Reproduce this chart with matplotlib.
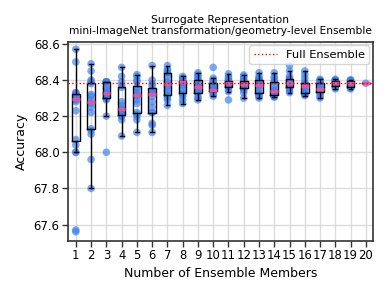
import matplotlib
matplotlib.use("Agg")
import matplotlib.pyplot as plt

sizes = list(range(1, 21))
full_ensemble = 68.382

acc_k1 = [67.56, 67.57, 68.00, 68.00, 68.04, 68.07, 68.23, 68.28, 68.29, 68.29,
          68.30, 68.30, 68.31, 68.31, 68.32, 68.32, 68.33, 68.33, 68.50, 68.57]
acc_k2 = [67.80, 67.96, 68.10, 68.12, 68.13, 68.22, 68.25, 68.27, 68.29, 68.31,
          68.32, 68.38, 68.39, 68.40, 68.45, 68.49]
acc_k3 = [68.00, 68.20, 68.29, 68.30, 68.30, 68.31, 68.32, 68.33, 68.33, 68.35,
          68.36, 68.39, 68.39, 68.39, 68.39, 68.39]
acc_k4 = [68.09, 68.18, 68.20, 68.20, 68.21, 68.22, 68.23, 68.24, 68.24, 68.26,
          68.28, 68.36, 68.37, 68.39, 68.42, 68.47]
acc_k5 = [68.11, 68.18, 68.20, 68.21, 68.22, 68.27, 68.29, 68.31, 68.32, 68.33,
          68.35, 68.36, 68.39, 68.40, 68.42, 68.43]
acc_k6 = [68.11, 68.15, 68.16, 68.22, 68.22, 68.25, 68.28, 68.31, 68.33, 68.33,
          68.34, 68.35, 68.37, 68.38, 68.40, 68.48]
acc_k7 = [68.26, 68.29, 68.30, 68.31, 68.32, 68.34, 68.36, 68.37, 68.385, 68.39,
          68.42, 68.44, 68.44, 68.45, 68.46, 68.48]
acc_k8 = [68.27, 68.29, 68.31, 68.32, 68.33, 68.35, 68.37, 68.385, 68.39, 68.39,
          68.39, 68.395, 68.40, 68.41, 68.41, 68.42]
acc_k9 = [68.29, 68.30, 68.31, 68.33, 68.33, 68.34, 68.35, 68.36, 68.365, 68.37,
          68.38, 68.40, 68.41, 68.42, 68.43, 68.44]
acc_k10 = [68.31, 68.32, 68.33, 68.335, 68.34, 68.34, 68.345, 68.345, 68.35, 68.36,
           68.37, 68.385, 68.39, 68.40, 68.41, 68.47]
acc_k11 = [68.29, 68.336, 68.345, 68.36, 68.365, 68.37, 68.38, 68.385, 68.387, 68.39,
           68.393, 68.396, 68.40, 68.41, 68.42, 68.434]
acc_k12 = [68.30, 68.33, 68.345, 68.35, 68.36, 68.365, 68.37, 68.375, 68.38, 68.385,
           68.39, 68.395, 68.40, 68.41, 68.42, 68.428]
acc_k13 = [68.30, 68.31, 68.315, 68.32, 68.33, 68.35, 68.365, 68.37, 68.38, 68.385,
           68.39, 68.40, 68.405, 68.41, 68.42, 68.44]
acc_k14 = [68.305, 68.31, 68.31, 68.315, 68.32, 68.325, 68.33, 68.335, 68.34, 68.35,
           68.37, 68.39, 68.395, 68.41, 68.42, 68.44]
acc_k15 = [68.33, 68.34, 68.35, 68.355, 68.36, 68.37, 68.38, 68.385, 68.387, 68.39,
           68.40, 68.403, 68.41, 68.42, 68.45, 68.48]
acc_k16 = [68.314, 68.32, 68.32, 68.325, 68.33, 68.34, 68.35, 68.365, 68.37, 68.37,
           68.375, 68.38, 68.39, 68.41, 68.43, 68.45]
acc_k17 = [68.30, 68.31, 68.32, 68.33, 68.335, 68.34, 68.345, 68.347, 68.35, 68.36,
           68.37, 68.385, 68.39, 68.395, 68.40, 68.404]
acc_k18 = [68.351, 68.36, 68.365, 68.37, 68.38, 68.385, 68.387, 68.39, 68.395, 68.398,
           68.40, 68.404]
acc_k19 = [68.351, 68.355, 68.36, 68.365, 68.37, 68.38, 68.384, 68.39, 68.395, 68.398,
           68.40, 68.40]
acc_k20 = [68.382]

data = [acc_k1, acc_k2, acc_k3, acc_k4, acc_k5, acc_k6, acc_k7, acc_k8, acc_k9, acc_k10,
        acc_k11, acc_k12, acc_k13, acc_k14, acc_k15, acc_k16, acc_k17, acc_k18, acc_k19, acc_k20]

fig = plt.figure(figsize=(3.88, 2.95), dpi=100)
ax = fig.add_axes([0.175, 0.183, 0.786, 0.675])

ax.grid(True, color="#dcdcdc", lw=1.0, zorder=0)
ax.set_axisbelow(True)

for k, vals in zip(sizes, data):
    ax.scatter([k] * len(vals), vals, s=30, color="#3b83f2", alpha=0.68,
               edgecolors="none", zorder=2)

ax.boxplot(data, positions=sizes, widths=0.5, showfliers=False,
           boxprops=dict(color="black", lw=1.0),
           whiskerprops=dict(color="black", lw=1.0),
           capprops=dict(color="black", lw=1.0),
           medianprops=dict(color="#f0509a", lw=2.5),
           zorder=3)

ax.axhline(full_ensemble, color="red", ls=":", lw=1.0, label="Full Ensemble", zorder=4)

ax.set_xlim(0.48, 20.46)
ax.set_ylim(67.509, 68.611)
ax.set_xticks(sizes)
ax.set_xticklabels([str(s) for s in sizes])
ax.set_yticks([67.6, 67.8, 68.0, 68.2, 68.4, 68.6])

for sp in ax.spines.values():
    sp.set_color("#333333")
    sp.set_linewidth(1.2)
ax.tick_params(axis="both", direction="out", length=4, width=1.0, color="#333333",
               labelsize=8.4, pad=2)

ax.set_xlabel("Number of Ensemble Members", fontsize=9, labelpad=3)
ax.set_ylabel("Accuracy", fontsize=9, labelpad=4)
ax.set_title("Surrogate Representation\nmini-ImageNet transformation/geometry-level Ensemble",
             fontsize=7.7, pad=6, linespacing=1.1)

leg = ax.legend(loc="upper right", fontsize=8.2, frameon=True, borderpad=0.4,
                handlelength=2.0, borderaxespad=0.3)
leg.get_frame().set_edgecolor("#cccccc")

fig.savefig("out.png", dpi=100)
